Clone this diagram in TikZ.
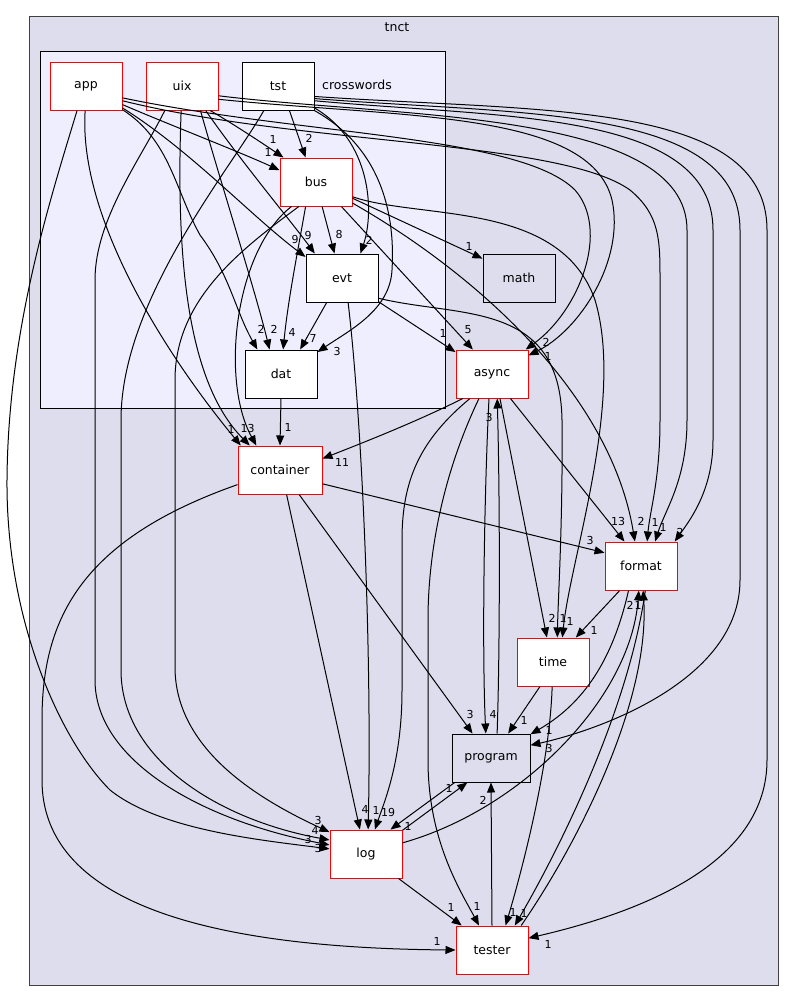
\documentclass[tikz,border=0pt]{standalone}
\usepackage{fontspec}
\setmainfont{DejaVu Sans}
\usepackage{xcolor}
\usepackage{tikz}
\usetikzlibrary{arrows.meta}
\definecolor{clusterbg}{RGB}{221,221,238}
\definecolor{innerbg}{RGB}{238,238,255}
\tikzset{
  cluster/.style={
    draw=black!75,
    line width=1pt,
    fill=clusterbg
  },
  cluster2/.style={
    draw=black,
    line width=1pt,
    fill=innerbg
  },
  dirbox/.style={
    rectangle,
    draw=red,
    line width=1pt,
    fill=white,
    minimum width=72pt,
    minimum height=48pt,
    inner sep=0pt,
    font=\fontsize{12.5}{14}\selectfont
  },
  dirbox2/.style={
    dirbox,
    draw=black
  },
  dirbox3/.style={
    dirbox,
    draw=black,
    fill=clusterbg
  },
  lbl/.style={font=\fontsize{11}{12}\selectfont, inner sep=0pt},
  flow/.style={-{Triangle[length=10pt,width=8pt]}, line width=1pt, black}
}

\begin{document}
\begin{tikzpicture}[x=1pt,y=-1pt]
\useasboundingbox (0,0) rectangle (795,1001);
% clusters
\draw[cluster] (29,16) rectangle (778,985);
\node[font=\fontsize{12.5}{14}\selectfont] (tnctlbl) at (397,27) {tnct};
\draw[cluster2] (40,51) rectangle (445,408);
\node[font=\fontsize{12.5}{14}\selectfont] (cwlbl) at (357,85) {crosswords};

% directories
\node[dirbox] (app) at (86,86) {app};
\node[dirbox] (uix) at (182,86) {uix};
\node[dirbox2] (tst) at (278,86) {tst};
\node[dirbox] (bus) at (316,182) {bus};
\node[dirbox2] (evt) at (342,278) {evt};
\node[dirbox2] (dat) at (281,374) {dat};
\node[dirbox3] (math) at (519,278) {math};
\node[dirbox] (async) at (492,374) {async};
\node[dirbox, minimum width=84pt] (container) at (280,470) {container};
\node[dirbox] (format) at (641,566) {format};
\node[dirbox] (time) at (553,662) {time};
\node[dirbox3, minimum width=78pt] (program) at (491,758) {program};
\node[dirbox] (log) at (366,854) {log};
\node[dirbox] (tester) at (492,950) {tester};

% inside crosswords
\draw[flow] (app.-27) .. controls (170,125) and (235,150) .. (bus.162) node[lbl, at={(268,152)}] {1};
\draw[flow] (uix.-41) .. controls (235,125) and (265,145) .. (bus.143) node[lbl, at={(273,139)}] {1};
\draw[flow] (tst.-65) -- (bus.113) node[lbl, at={(309,138)}] {2};
\draw[flow] (app.-31) .. controls (190,150) and (250,215) .. (evt.150) node[lbl, at={(295,239)}] {9};
\draw[flow] (uix.-46) .. controls (240,160) and (290,220) .. (evt.138) node[lbl, at={(308,235)}] {9};
\draw[flow] (bus.-76) -- (evt.107) node[lbl, at={(339,234)}] {8};
\draw[flow] (tst.-31) .. controls (370,140) and (375,210) .. (evt.53) node[lbl, at={(369,240)}] {2};
\draw[flow] (app.-33) .. controls (170,140) and (175,190) .. (200,235) .. controls (230,275) and (235,310) .. (dat.134) node[lbl, at={(261,329)}] {2};
\draw[flow] (uix.-53) .. controls (220,180) and (255,290) .. (dat.115) node[lbl, at={(274,329)}] {2};
\draw[flow] (bus.-113) .. controls (298,250) and (288,300) .. (dat.85) node[lbl, at={(292,332)}] {4};
\draw[flow] (evt.-122) -- (dat.52) node[lbl, at={(313,338)}] {7};
\draw[flow] (tst.-34) .. controls (385,150) and (395,220) .. (392,270) .. controls (390,310) and (350,330) .. (dat.31) node[lbl, at={(337,351)}] {3};
\draw[flow] (bus.-24) -- (math.152) node[lbl, at={(469,246)}] {1};
\draw[flow] (evt.-33) -- (async.149) node[lbl, at={(443,333)}] {1};
\draw[flow] (bus.-44) -- (async.128) node[lbl, at={(468,330)}] {5};

% into container
\draw[flow] (dat.south) -- (container.north) node[lbl, at={(288,427)}] {1};
\draw[flow] (app.-92) .. controls (78,220) and (170,360) .. (container.148) node[lbl, at={(231,429)}] {1};
\draw[flow] (uix.-92) .. controls (176,250) and (185,380) .. (container.141) node[lbl, at={(244,428)}] {1};
\draw[flow] (bus.-135) .. controls (235,250) and (220,380) .. (container.134) node[lbl, at={(251,428)}] {3};
\draw[flow] (async.-140) .. controls (420,420) and (370,440) .. (container.15) node[lbl, at={(342,462)}] {11};

% out of container
\draw[flow] (container.-18) -- (format.160) node[lbl, at={(590,540)}] {3};
\draw[flow] (container.-52) -- (program.127) node[lbl, at={(470,714)}] {3};
\draw[flow] (container.-75) -- (log.104) node[lbl, at={(365,809)}] {4};
\draw[flow] (container.-161) .. controls (80,540) and (42,620) .. (42,720) -- (42,780) .. controls (42,900) and (200,948) .. (tester.180) node[lbl, at={(437,941)}] {1};

% long right routes
\draw[flow] (app.-18) .. controls (300,135) and (520,135) .. (575,190) .. controls (610,230) and (580,310) .. (async.36) node[lbl, at={(546,342)}] {2};
\draw[flow] (uix.-20) .. controls (400,118) and (590,110) .. (612,200) .. controls (625,260) and (580,330) .. (async.27) node[lbl, at={(548,356)}] {1};
\draw[flow] (app.-22) .. controls (300,145) and (560,140) .. (630,190) .. controls (660,215) and (660,240) .. (660,280) -- (660,420) .. controls (660,480) and (650,510) .. (format.76) node[lbl, at={(655,522)}] {1};
\draw[flow] (uix.-15) .. controls (400,118) and (687,110) .. (687,230) -- (687,420) .. controls (687,480) and (665,510) .. (format.60) node[lbl, at={(663,527)}] {1};
\draw[flow] (tst.-22) .. controls (500,118) and (713,110) .. (713,230) -- (713,440) .. controls (713,490) and (690,520) .. (format.36) node[lbl, at={(680,532)}] {2};
\draw[flow] (tst.-19) .. controls (520,115) and (740,105) .. (740,230) -- (740,580) .. controls (740,680) and (600,730) .. (program.18) node[lbl, at={(549,748)}] {3};
\draw[flow] (tst.-16) .. controls (540,112) and (767,100) .. (767,230) -- (767,760) .. controls (767,860) and (650,910) .. (tester.18) node[lbl, at={(548,944)}] {1};
\draw[flow] (bus.-30) .. controls (470,270) and (610,390) .. (format.104) node[lbl, at={(641,521)}] {2};

% into log from the left
\draw[flow] (app.-110) .. controls (50,200) and (8,330) .. (7,480) .. controls (6,620) and (60,740) .. (110,790) .. controls (160,830) and (260,840) .. (log.172) node[lbl, at={(318,848)}] {3};
\draw[flow] (uix.-125) .. controls (140,160) and (95,220) .. (95,280) -- (95,680) .. controls (95,760) and (200,820) .. (log.166) node[lbl, at={(308,839)}] {3};
\draw[flow] (tst.-120) .. controls (230,170) and (121,300) .. (121,420) -- (121,670) .. controls (121,760) and (220,820) .. (log.159) node[lbl, at={(315,830)}] {4};
\draw[flow] (bus.-125) .. controls (240,250) and (175,300) .. (175,380) -- (175,667) .. controls (175,750) and (260,800) .. (log.149) node[lbl, at={(318,820)}] {3};

% async and friends
\draw[flow] (evt.-76) .. controls (362,420) and (372,650) .. (log.85) node[lbl, at={(376,810)}] {1};
\draw[flow] (async.-132) .. controls (420,440) and (402,480) .. (402,540) -- (402,690) .. controls (402,760) and (385,800) .. (log.70) node[lbl, at={(388,812)}] {19};
\draw[flow] (async.-118) .. controls (440,480) and (428,560) .. (428,620) -- (428,760) .. controls (428,840) and (460,890) .. (tester.118) node[lbl, at={(477,906)}] {1};
\draw[flow] (async.-97) .. controls (484,500) and (482,650) .. (program.102) node[lbl, at={(493,714)}] {4};
\draw[flow] (program.76) .. controls (500,650) and (500,500) .. (async.-78) node[lbl, at={(489,417)}] {3};
\draw[flow] (async.-72) -- (time.104) node[lbl, at={(552,618)}] {2};
\draw[flow] (async.-53) -- (format.124) node[lbl, at={(618,521)}] {13};
\draw[flow] (evt.-29) .. controls (460,318) and (560,300) .. (562,420) .. controls (563,520) and (558,600) .. (time.80) node[lbl, at={(563,618)}] {1};
\draw[flow] (bus.-22) .. controls (420,220) and (560,200) .. (595,300) .. controls (625,400) and (570,560) .. (time.69) node[lbl, at={(570,621)}] {1};

% lower part
\draw[flow] (format.-131) -- (time.47) node[lbl, at={(594,630)}] {1};
\draw[flow] (time.-118) -- (program.55) node[lbl, at={(524,720)}] {1};
\draw[flow] (time.-92) .. controls (550,760) and (525,860) .. (tester.61) node[lbl, at={(513,912)}] {1};
\draw[flow] (format.-117) .. controls (615,650) and (590,700) .. (program.31) node[lbl, at={(549,730)}] {1};
\draw[flow] (format.-80) .. controls (630,700) and (570,830) .. (tester.47) node[lbl, at={(524,913)}] {1};
\draw[flow] (log.17) .. controls (520,810) and (630,700) .. (format.-95) node[lbl, at={(630,605)}] {2};
\draw[flow] (tester.40) .. controls (580,840) and (650,700) .. (format.-85) node[lbl, at={(638,605)}] {1};
\draw[flow] (program.-146) -- (log.45) node[lbl, at={(408,826)}] {1};
\draw[flow] (log.33) -- (program.-134) node[lbl, at={(449,788)}] {1};
\draw[flow] (tester.north) -- (program.south) node[lbl, at={(483,800)}] {2};
\draw[flow] (log.-37) -- (tester.141) node[lbl, at={(451,907)}] {1};
\end{tikzpicture}
\end{document}
